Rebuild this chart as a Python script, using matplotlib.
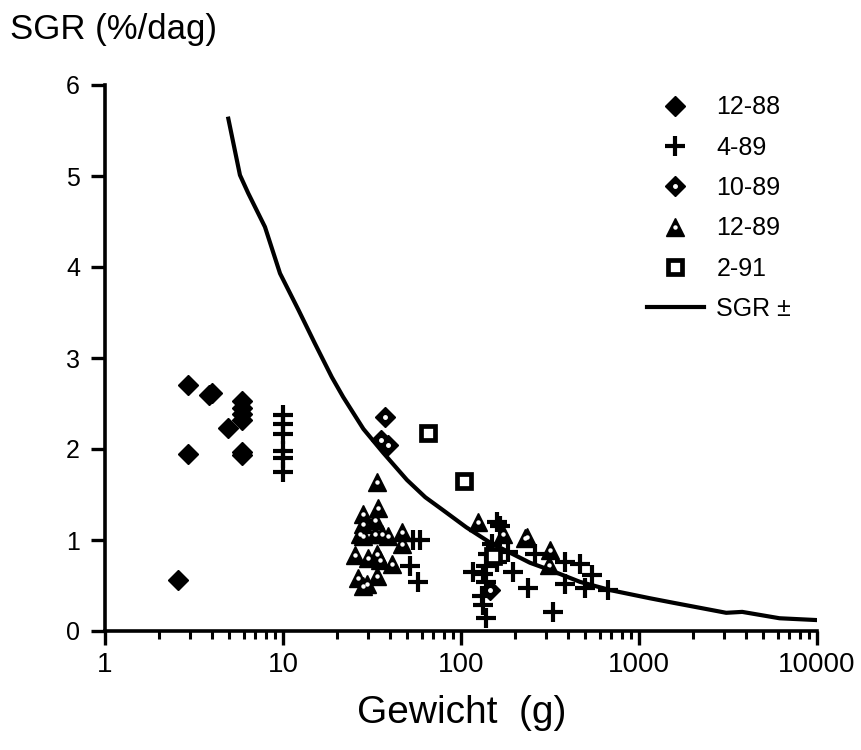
import matplotlib
matplotlib.use("Agg")
import matplotlib.pyplot as plt
from matplotlib.ticker import LogLocator, FixedLocator, NullFormatter

plt.rcParams['font.family'] = ['Liberation Sans', 'DejaVu Sans']

# 12-88
w_1288 = [2.94, 3.84, 4.0, 5.9, 5.9, 5.9, 5.9, 4.93, 2.94, 5.9, 5.9, 2.56]
s_1288 = [2.70, 2.59, 2.62, 2.53, 2.45, 2.38, 2.32, 2.23, 1.94, 1.97, 1.93, 0.56]

# 4-89
w_489 = [10, 10, 10, 10, 10, 10,
         53.7, 58.9, 51.7, 57.4,
         159, 166, 149, 184, 261, 142, 159, 139, 117, 197, 133, 139, 239, 131, 133, 139,
         384, 466, 542, 384, 497, 672, 330]
s_489 = [2.37, 2.28, 2.17, 1.98, 1.90, 1.75,
         1.00, 1.00, 0.71, 0.54,
         1.20, 1.15, 0.96, 0.87, 0.85, 0.85, 0.76, 0.71, 0.65, 0.65, 0.63, 0.54, 0.47, 0.38, 0.29, 0.14,
         0.76, 0.74, 0.62, 0.52, 0.47, 0.45, 0.21]

# 10-89
w_1089 = [37.4, 35.5, 39.0, 146]
s_1089 = [2.35, 2.10, 2.04, 0.45]

# 12-89
w_1289 = [33.6, 28.3, 34.3, 28.3, 32.9, 27.1, 28.3, 32.9, 35.8, 39.0, 46.4, 46.4,
          33.6, 25.4, 30.2, 35.1, 40.8, 26.5, 29.5, 33.6, 28.3,
          125, 173, 229, 235, 316, 311]
s_1289 = [1.64, 1.29, 1.35, 1.18, 1.22, 1.07, 1.04, 1.07, 1.07, 1.04, 1.09, 0.96,
          0.85, 0.84, 0.80, 0.78, 0.74, 0.58, 0.52, 0.60, 0.49,
          1.20, 1.07, 1.02, 1.03, 0.89, 0.73]

# 2-91
w_291 = [65.3, 104, 151]
s_291 = [2.18, 1.65, 0.82]

# SGR curve
w_curve = [4.93, 5.73, 6.38, 7.92, 9.62, 12.2, 15.1, 18.8, 21.8, 28.3, 36.5, 49.7, 63, 79,
           107, 146, 244, 316, 466, 687, 1150, 1560, 3090, 3800, 6160, 10000]
s_curve = [5.63, 5.01, 4.81, 4.44, 3.93, 3.53, 3.16, 2.79, 2.57, 2.22, 1.96, 1.66, 1.47, 1.33,
           1.14, 0.97, 0.75, 0.67, 0.54, 0.45, 0.36, 0.31, 0.20, 0.21, 0.14, 0.12]

xticks = [1, 10, 100, 1000, 10000]
xticklabels = ['1', '10', '100', '1000', '10000']
yticks = [0, 1, 2, 3, 4, 5, 6]

fig = plt.figure(figsize=(8.61, 7.5), dpi=100)
ax = fig.add_axes([105/861, 1-631/750, (817-105)/861, (631-85)/750])

line, = ax.plot(w_curve, s_curve, color='black', lw=3, zorder=3)
h1, = ax.plot(w_1288, s_1288, ls='none', marker='D', ms=10.5, color='black')
h2, = ax.plot(w_489, s_489, ls='none', marker='+', ms=14, mew=3, color='black')
h3, = ax.plot(w_1089, s_1089, ls='none', marker='D', ms=10, color='black')
d3, = ax.plot(w_1089, s_1089, ls='none', marker='o', ms=2.5, color='white')
h4, = ax.plot(w_1289, s_1289, ls='none', marker='^', ms=13, color='black')
d4, = ax.plot(w_1289, s_1289, ls='none', marker='o', ms=2.2, color='white')
h5, = ax.plot(w_291, s_291, ls='none', marker='s', ms=9.5, mfc='white', mec='black', mew=3.4)

ax.set_xscale('log')
ax.set_xlim(1, 10000)
ax.set_ylim(0, 6)
ax.xaxis.set_major_locator(FixedLocator(xticks))
ax.set_xticklabels(xticklabels)
ax.xaxis.set_minor_locator(LogLocator(base=10, subs=range(2, 10)))
ax.xaxis.set_minor_formatter(NullFormatter())
ax.set_yticks(yticks)

for s in ['top', 'right']:
    ax.spines[s].set_visible(False)
ax.spines['left'].set_linewidth(2.6)
ax.spines['bottom'].set_linewidth(2.6)
ax.tick_params(axis='both', which='major', direction='out', width=2.4, length=10,
               color='black')
ax.tick_params(axis='x', which='minor', direction='out', width=2.2, length=6)
ax.tick_params(axis='x', labelsize=20, pad=5)
ax.tick_params(axis='y', labelsize=18, pad=8)

fig.text(10/861, 1-30/750, 'SGR (%/dag)', fontsize=25, ha='left', va='center')
fig.text(462/861, 1-713/750, 'Gewicht  (g)', fontsize=28, ha='center', va='center')

ax.legend([h1, h2, (h3, d3), (h4, d4), h5, line],
          ['12-88', '4-89', '10-89', '12-89', '2-91', 'SGR \u00b1'],
          loc='upper left', bbox_to_anchor=(624/861, 1-73/750),
          bbox_transform=fig.transFigure, frameon=False, fontsize=18,
          handlelength=2.3, handletextpad=0.5, labelspacing=0.65, numpoints=1,
          borderpad=0.4)

fig.savefig('out.png', dpi=100)
